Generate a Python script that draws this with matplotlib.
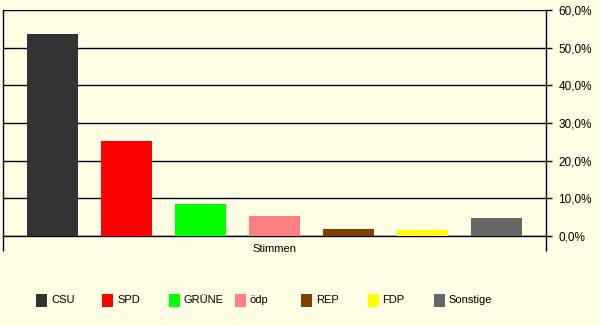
import matplotlib
matplotlib.use("Agg")
import matplotlib.pyplot as plt
from matplotlib.patches import Rectangle
from matplotlib.ticker import FuncFormatter

plt.rcParams["font.family"] = ["Liberation Sans", "DejaVu Sans"]

# Wahlergebnis (Stimmen, %)
parties = ["CSU", "SPD", "GRÜNE", "ödp", "REP", "FDP", "Sonstige"]
shares = [53.6, 25.2, 8.6, 5.3, 1.9, 1.5, 4.8]
colors = ["#333333", "#FF0000", "#00FF00", "#FF8080", "#804000", "#FFFF00", "#666666"]
y_ticks = [0, 10, 20, 30, 40, 50, 60]
category = "Stimmen"

BG = "#FFFEE5"

fig = plt.figure(figsize=(6.0, 3.26), dpi=100, facecolor=BG)
ax = fig.add_axes([3 / 600, 90 / 326, 543 / 600, 226 / 326], facecolor=BG)

xs = list(range(len(parties)))
ax.bar(xs, shares, width=0.69, color=colors, zorder=3)

ax.set_xlim(-0.669, len(parties) - 1 + 0.669)
ax.set_ylim(0, 60)

# value axis on the right, gridlines black
ax.yaxis.tick_right()
ax.set_yticks(y_ticks)
ax.yaxis.set_major_formatter(FuncFormatter(lambda v, _: f"{v:.1f}%".replace(".", ",")))
ax.tick_params(axis="y", direction="out", length=4, width=1, color="black",
               labelsize=8.5, pad=5)
ax.grid(axis="y", color="black", linewidth=1, zorder=1)

# category axis: ticks only at the outer edges
ax.set_xticks(ax.get_xlim())
ax.set_xticklabels(["", ""])
ax.tick_params(axis="x", direction="out", length=11, width=1, color="black")
ax.text(0.5, -0.035, category, transform=ax.transAxes, ha="center", va="top",
        fontsize=8)

for side in ["left", "right", "bottom"]:
    ax.spines[side].set_color("black")
    ax.spines[side].set_linewidth(1)
ax.spines["top"].set_visible(False)

# legend row at the bottom
lx0, ldx, ly = 36, 66.3, 300
for i, (name, c) in enumerate(zip(parties, colors)):
    x = lx0 + i * ldx
    fig.add_artist(Rectangle((x / 600, (326 - ly - 6.5) / 326), 11 / 600, 13 / 326,
                             transform=fig.transFigure, facecolor=c,
                             edgecolor="none"))
    fig.text((x + 15) / 600, (326 - ly) / 326, name, ha="left", va="center",
             fontsize=8)

fig.savefig("out.png", dpi=100, facecolor=BG)
